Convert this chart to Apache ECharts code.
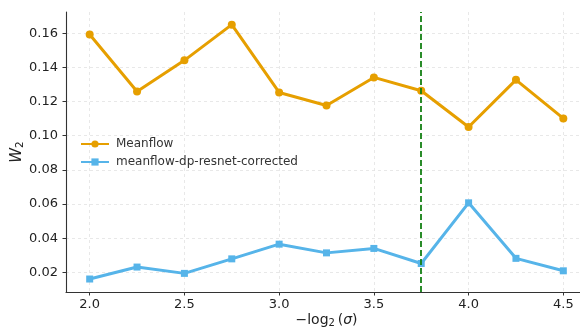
<!DOCTYPE html>
<html>
<head>
<meta charset="utf-8">
<script src="https://cdn.jsdelivr.net/npm/echarts@6/dist/echarts.min.js"></script>
<style>
  html, body { margin: 0; padding: 0; background: #fff; }
  #chart { width: 580px; height: 331px; }
</style>
</head>
<body>
<div id="chart"></div>
<script>
// -log2(sigma) sample points
const sigmaLevels = [2.0, 2.25, 2.5, 2.75, 3.0, 3.25, 3.5, 3.75, 4.0, 4.25, 4.5];
// W2 distance per method
const meanflow = [0.1592, 0.1259, 0.1441, 0.1650, 0.1253, 0.1177, 0.1341, 0.1263, 0.1051, 0.1327, 0.1101];
const meanflowDpResnet = [0.0161, 0.0231, 0.0194, 0.0279, 0.0365, 0.0314, 0.0340, 0.0252, 0.0607, 0.0282, 0.0209];
// reference marker on the x axis
const markerLevel = [3.75];
// tick labels
const xTicks = [2.0, 2.5, 3.0, 3.5, 4.0, 4.5];
const yTicks = [0.02, 0.04, 0.06, 0.08, 0.10, 0.12, 0.14, 0.16];

const FONT = 'DejaVu Sans';
const pairs = (xs, ys) => xs.map((x, i) => [x, ys[i]]);

const chart = echarts.init(document.getElementById('chart'), null, { renderer: 'canvas' });

const axisLine = { show: true, lineStyle: { color: '#333', width: 1.1 } };
const splitLine = { show: true, lineStyle: { color: '#e3e3e3', width: 0.8, type: [3, 3] } };

chart.setOption({
  animation: false,
  backgroundColor: '#fff',
  grid: { left: 66, right: -7, top: 12, bottom: 39, containLabel: false, outerBoundsMode: 'none' },
  xAxis: {
    type: 'value',
    min: 1.875,
    max: 4.625,
    axisLine: axisLine,
    axisTick: { show: true, length: 3.5, lineStyle: { color: '#333' }, customValues: xTicks },
    axisLabel: {
      customValues: xTicks,
      formatter: v => v.toFixed(1),
      color: '#222', fontFamily: FONT, fontSize: 13, margin: 6
    },
    splitLine: splitLine,
    name: '{n|−log}{s|2}{n|\u2009(}{i|σ}{n|)}',
    nameLocation: 'middle',
    nameGap: 20,
    nameMoveOverlap: false,
    nameTextStyle: {
      rich: {
        n: { fontFamily: FONT, fontSize: 14, color: '#222' },
        s: { fontFamily: FONT, fontSize: 10, color: '#222', verticalAlign: 'bottom', padding: [6, 0, 0, 0] },
        i: { fontFamily: FONT, fontSize: 14, color: '#222', fontStyle: 'italic' }
      }
    }
  },
  yAxis: {
    type: 'value',
    min: 0.0085,
    max: 0.1724,
    axisLine: axisLine,
    axisTick: { show: true, length: 3.5, lineStyle: { color: '#333' }, customValues: yTicks },
    axisLabel: {
      customValues: yTicks,
      formatter: v => v.toFixed(2),
      color: '#222', fontFamily: FONT, fontSize: 13, margin: 8
    },
    splitLine: splitLine,
    name: '{i|W}{s|2}',
    nameLocation: 'middle',
    nameRotate: 90,
    nameGap: 40,
    nameMoveOverlap: false,
    nameTextStyle: {
      rich: {
        i: { fontFamily: FONT, fontSize: 15, color: '#222', fontStyle: 'italic' },
        s: { fontFamily: FONT, fontSize: 10.5, color: '#222', verticalAlign: 'bottom', padding: [7, 0, 0, 0] }
      }
    }
  },
  legend: {
    orient: 'vertical',
    left: 75,
    top: 133,
    itemWidth: 28,
    itemHeight: 9,
    itemGap: 6,
    textStyle: { fontFamily: FONT, fontSize: 12, color: '#333', padding: [0, 0, 0, 2] },
    data: ['Meanflow', 'meanflow-dp-resnet-corrected']
  },
  series: [
    {
      name: 'Meanflow',
      type: 'line',
      data: pairs(sigmaLevels, meanflow),
      color: '#E69F00',
      lineStyle: { width: 3, color: '#E69F00' },
      symbol: 'circle',
      symbolSize: 8,
      itemStyle: { color: '#E69F00' },
      z: 3
    },
    {
      name: 'meanflow-dp-resnet-corrected',
      type: 'line',
      data: pairs(sigmaLevels, meanflowDpResnet),
      color: '#56B4E9',
      lineStyle: { width: 3, color: '#56B4E9' },
      symbol: 'rect',
      symbolSize: 7,
      itemStyle: { color: '#56B4E9' },
      z: 3
    },
    {
      name: 'marker',
      type: 'line',
      data: [],
      z: 5,
      markLine: {
        silent: true,
        symbol: ['none', 'none'],
        label: { show: false },
        lineStyle: { color: '#138013', width: 1.8, type: [6, 3] },
        data: markerLevel.map(v => ({ xAxis: v }))
      }
    }
  ]
});
</script>
</body>
</html>
